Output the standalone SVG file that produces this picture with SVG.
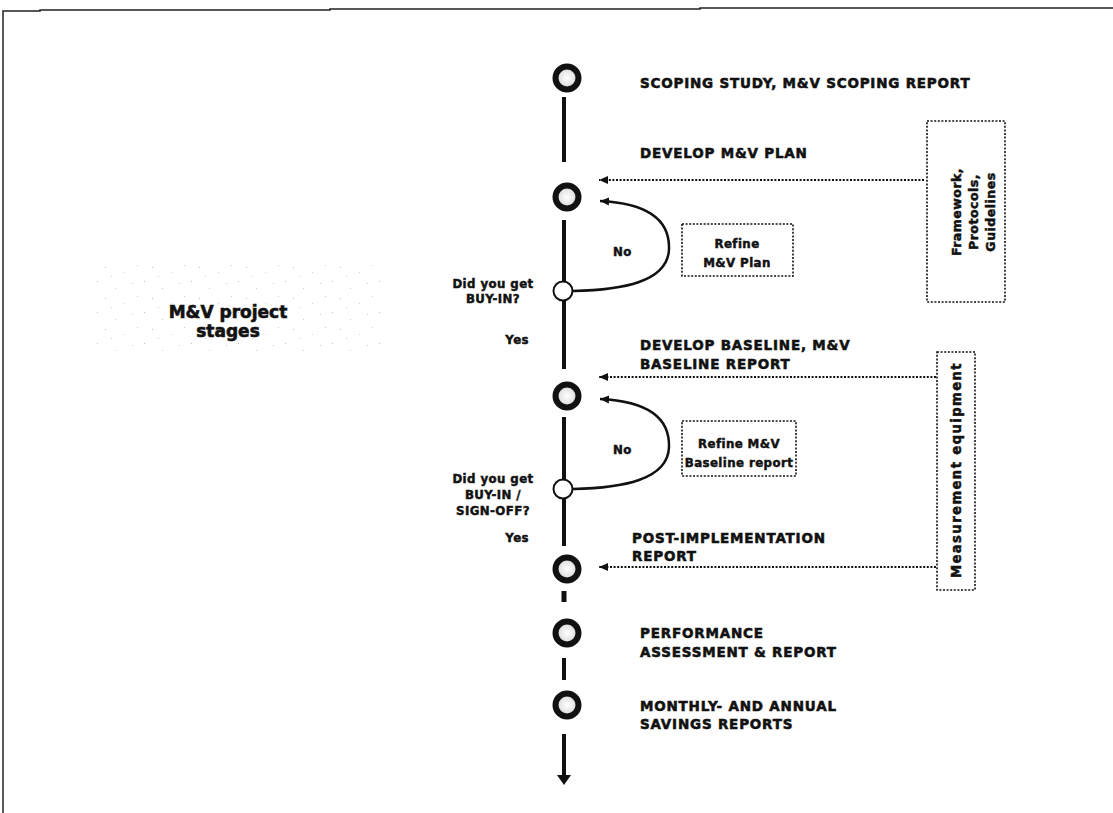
<svg xmlns="http://www.w3.org/2000/svg" width="1113" height="813" viewBox="0 0 1113 813">
<style>
.t{font-family:"DejaVu Sans",sans-serif;font-weight:bold;font-size:13.5px;letter-spacing:0.8px;fill:#111;stroke:#111;stroke-width:0.55px}
.s{font-family:"DejaVu Sans",sans-serif;font-weight:bold;font-size:11.8px;letter-spacing:0.4px;fill:#111;stroke:#111;stroke-width:0.45px}
.r{font-family:"DejaVu Sans",sans-serif;font-weight:bold;font-size:12.5px;letter-spacing:0.5px;fill:#111;stroke:#111;stroke-width:0.5px}
.lbl{font-family:"DejaVu Sans",sans-serif;font-weight:bold;font-size:17px;fill:#111;stroke:#111;stroke-width:0.6px}
.big{stroke:#111;stroke-width:6;fill:url(#g)}
.sm{stroke:#111;stroke-width:2;fill:#fff}
.v{stroke:#111;stroke-width:4;fill:none}
.dot{stroke:#111;stroke-width:2;stroke-dasharray:2 1.6;fill:none}
.box{stroke:#111;stroke-width:1.6;stroke-dasharray:2 1.6;fill:none}
.cur{stroke:#111;stroke-width:2.5;fill:none}
</style>
<defs>
<radialGradient id="g" cx="0.5" cy="0.5" r="0.5">
<stop offset="0" stop-color="#ffffff"/>
<stop offset="0.65" stop-color="#e4e4e4"/>
<stop offset="1" stop-color="#8a8a8a"/>
</radialGradient>
<marker id="ah" markerWidth="10" markerHeight="10" refX="9" refY="5" orient="auto" markerUnits="userSpaceOnUse">
<path d="M0,1 L9,5 L0,9 Z" fill="#111"/>
</marker>
<pattern id="spk" width="47" height="31" patternUnits="userSpaceOnUse">
<rect x="3" y="2" width="1" height="1" fill="#bbb"/>
<rect x="21" y="9" width="1" height="1" fill="#ccc"/>
<rect x="38" y="4" width="1" height="1" fill="#c4c4c4"/>
<rect x="11" y="19" width="1" height="1" fill="#bbb"/>
<rect x="30" y="24" width="1" height="1" fill="#d0d0d0"/>
<rect x="43" y="17" width="1" height="1" fill="#c8c8c8"/>
<rect x="17" y="28" width="1" height="1" fill="#ccc"/>
</pattern>
</defs>
<rect width="1113" height="813" fill="#fff"/>
<path d="M3,813 L3,11 L40,11 L40,10 L330,10 L330,9 L700,9 L700,8 L1113,8" stroke="#222" stroke-width="1.5" fill="none"/>

<g id="title">
<rect x="92" y="264" width="290" height="92" fill="url(#spk)"/>
<text class="lbl" x="228" y="318" text-anchor="middle">M&amp;V project</text>
<text class="lbl" x="228" y="337" text-anchor="middle">stages</text>
</g>

<g id="connectors">
<line class="v" x1="564" y1="97" x2="564" y2="162"/>
<line class="v" x1="564" y1="220" x2="564" y2="281"/>
<line class="v" x1="564" y1="301" x2="564" y2="369"/>
<line class="v" x1="564" y1="417" x2="564" y2="479"/>
<line class="v" x1="564" y1="499" x2="564" y2="546"/>
<line class="v" x1="564" y1="591" x2="564" y2="602" style="stroke-width:5"/>
<line class="v" x1="564" y1="658" x2="564" y2="680"/>
<line class="v" x1="564" y1="734" x2="564" y2="776"/>
<path d="M557,775 L571,775 L564,785 Z" fill="#111"/>
<line class="dot" x1="924" y1="180" x2="599" y2="180" marker-end="url(#ah)"/>
<line class="dot" x1="936" y1="377" x2="599" y2="377" marker-end="url(#ah)"/>
<line class="dot" x1="936" y1="567" x2="599" y2="567" marker-end="url(#ah)"/>
<path class="cur" d="M573,291 C622,290 668,282 669,249 C670,216 642,203 600,201" marker-end="url(#ah)"/>
<path class="cur" d="M573,489 C622,488 668,480 669,447 C670,414 642,401 600,399" marker-end="url(#ah)"/>
</g>

<g id="n1"><circle class="big" cx="567" cy="78" r="11.5"/><text class="t" x="640" y="88">SCOPING STUDY, M&amp;V SCOPING REPORT</text></g>
<g id="n2"><circle class="big" cx="567" cy="197" r="11.5"/><text class="t" x="640" y="158">DEVELOP M&amp;V PLAN</text></g>
<g id="d1"><circle class="sm" cx="563" cy="291" r="9.5"/>
<text class="s" x="493" y="288" text-anchor="middle">Did you get</text>
<text class="s" x="493" y="303" text-anchor="middle">BUY-IN?</text>
<text class="s" x="613" y="256">No</text>
<text class="s" x="529" y="344" text-anchor="end">Yes</text></g>
<g id="r1"><rect class="box" x="682" y="224" width="111" height="52"/>
<text class="s" x="737" y="248" text-anchor="middle">Refine</text>
<text class="s" x="737" y="267" text-anchor="middle">M&amp;V Plan</text></g>
<g id="n3"><circle class="big" cx="567" cy="396" r="11.5"/>
<text class="t" x="640" y="350">DEVELOP BASELINE, M&amp;V</text>
<text class="t" x="640" y="369">BASELINE REPORT</text></g>
<g id="d2"><circle class="sm" cx="563" cy="489" r="9.5"/>
<text class="s" x="493" y="483" text-anchor="middle">Did you get</text>
<text class="s" x="493" y="499" text-anchor="middle">BUY-IN /</text>
<text class="s" x="493" y="515" text-anchor="middle">SIGN-OFF?</text>
<text class="s" x="613" y="454">No</text>
<text class="s" x="529" y="542" text-anchor="end">Yes</text></g>
<g id="r2"><rect class="box" x="682" y="421" width="114" height="55"/>
<text class="s" x="739" y="448" text-anchor="middle">Refine M&amp;V</text>
<text class="s" x="739" y="467" text-anchor="middle">Baseline report</text></g>
<g id="n4"><circle class="big" cx="567" cy="569" r="11.5"/>
<text class="t" x="632" y="543">POST-IMPLEMENTATION</text>
<text class="t" x="632" y="561">REPORT</text></g>
<g id="n5"><circle class="big" cx="567" cy="633" r="11.5"/>
<text class="t" x="640" y="638">PERFORMANCE</text>
<text class="t" x="640" y="657">ASSESSMENT &amp; REPORT</text></g>
<g id="n6"><circle class="big" cx="567" cy="705" r="11.5"/>
<text class="t" x="640" y="711">MONTHLY- AND ANNUAL</text>
<text class="t" x="640" y="729">SAVINGS REPORTS</text></g>
<g id="framework"><rect class="box" x="927" y="121" width="78" height="181"/>
<text class="r" transform="translate(961,212) rotate(-90)" text-anchor="middle">Framework,</text>
<text class="r" transform="translate(978,212) rotate(-90)" text-anchor="middle">Protocols,</text>
<text class="r" transform="translate(995,212) rotate(-90)" text-anchor="middle">Guidelines</text></g>
<g id="equipment"><rect class="box" x="937" y="352" width="38" height="238"/>
<text class="r" transform="translate(961,470) rotate(-90)" text-anchor="middle" style="font-size:13.2px;letter-spacing:1.4px">Measurement equipment</text></g>
</svg>
